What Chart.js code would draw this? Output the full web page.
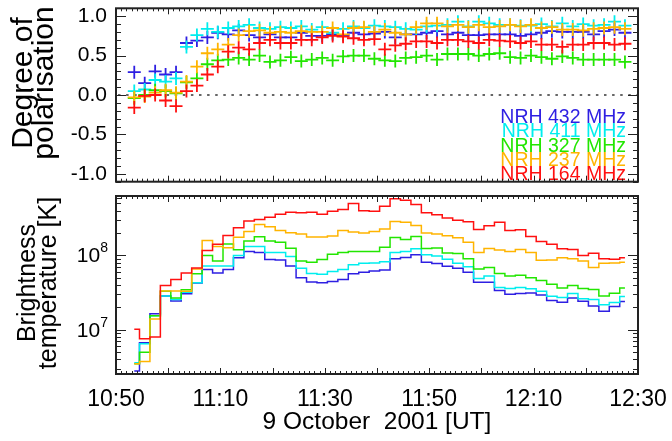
<!DOCTYPE html>
<html>
<head>
<meta charset="utf-8">
<script src="https://cdn.jsdelivr.net/npm/chart.js@4.4.1/dist/chart.umd.min.js"></script>
<style>
  html, body { margin: 0; padding: 0; background: #fff; }
  #wrap { position: relative; width: 672px; height: 441px; }
  .panel { position: absolute; left: 0; }
  #top { top: 0; }
  #bottom { top: 190px; }
</style>
</head>
<body>
<div id="wrap">
  <div class="panel" id="top"><canvas id="polChart" width="672" height="190"></canvas></div>
  <div class="panel" id="bottom"><canvas id="tbChart" width="672" height="251"></canvas></div>
</div>
<script>
// sample times (UT), one every 2 minutes
const times = [
  '10:53:30', '10:55:30', '10:57:30', '10:59:30', '11:01:30', '11:03:30', '11:05:30', '11:07:30',
  '11:09:30', '11:11:30', '11:13:30', '11:15:30', '11:17:30', '11:19:30', '11:21:30', '11:23:30',
  '11:25:30', '11:27:30', '11:29:30', '11:31:30', '11:33:30', '11:35:30', '11:37:30', '11:39:30',
  '11:41:30', '11:43:30', '11:45:30', '11:47:30', '11:49:30', '11:51:30', '11:53:30', '11:55:30',
  '11:57:30', '11:59:30', '12:01:30', '12:03:30', '12:05:30', '12:07:30', '12:09:30', '12:11:30',
  '12:13:30', '12:15:30', '12:17:30', '12:19:30', '12:21:30', '12:23:30', '12:25:30', '12:27:30'
];

// degree of polarisation
const pol432 = [0.29, 0.15, 0.30, 0.26, 0.29, 0.66, 0.69, 0.73, 0.79, 0.77, 0.82, 0.76, 0.73, 0.77, 0.73, 0.73,
  0.79, 0.75, 0.75, 0.77, 0.76, 0.79, 0.77, 0.78, 0.80, 0.73, 0.77, 0.77, 0.79, 0.81, 0.77, 0.79,
  0.76, 0.76, 0.77, 0.77, 0.77, 0.75, 0.77, 0.79, 0.81, 0.80, 0.80, 0.80, 0.77, 0.81, 0.83, 0.79];
const pol411 = [0.05, 0.07, 0.19, 0.17, 0.21, 0.61, 0.76, 0.84, 0.80, 0.85, 0.87, 0.89, 0.85, 0.84, 0.86, 0.85,
  0.87, 0.83, 0.86, 0.79, 0.84, 0.87, 0.85, 0.88, 0.87, 0.86, 0.84, 0.83, 0.87, 0.88, 0.89, 0.93,
  0.87, 0.93, 0.91, 0.89, 0.89, 0.88, 0.88, 0.90, 0.87, 0.91, 0.87, 0.90, 0.88, 0.89, 0.93, 0.88];
const pol327 = [-0.04, 0.00, 0.06, 0.05, 0.02, 0.16, 0.21, 0.39, 0.44, 0.45, 0.47, 0.45, 0.50, 0.42, 0.44, 0.48,
  0.43, 0.45, 0.47, 0.44, 0.49, 0.50, 0.50, 0.46, 0.44, 0.43, 0.47, 0.48, 0.50, 0.45, 0.52, 0.52,
  0.52, 0.50, 0.52, 0.53, 0.48, 0.47, 0.50, 0.48, 0.46, 0.49, 0.47, 0.45, 0.45, 0.45, 0.45, 0.42];
const pol237 = [-0.03, -0.02, 0.03, 0.06, 0.03, 0.17, 0.36, 0.53, 0.58, 0.64, 0.76, 0.81, 0.82, 0.79, 0.80, 0.79,
  0.81, 0.80, 0.80, 0.85, 0.77, 0.85, 0.86, 0.80, 0.83, 0.79, 0.77, 0.86, 0.91, 0.91, 0.87, 0.89,
  0.86, 0.89, 0.86, 0.87, 0.89, 0.87, 0.89, 0.85, 0.86, 0.83, 0.83, 0.82, 0.84, 0.85, 0.86, 0.84];
const pol164 = [-0.16, -0.01, 0.00, -0.07, -0.14, 0.05, 0.12, 0.26, 0.36, 0.55, 0.60, 0.58, 0.66, 0.70, 0.66, 0.66,
  0.70, 0.70, 0.73, 0.75, 0.74, 0.72, 0.70, 0.71, 0.58, 0.63, 0.65, 0.68, 0.68, 0.66, 0.70, 0.70,
  0.68, 0.66, 0.70, 0.69, 0.68, 0.66, 0.68, 0.64, 0.64, 0.61, 0.64, 0.64, 0.66, 0.66, 0.64, 0.65];

// brightness temperature [K]
const tb432 = [2.8e6, 6.7e6, 1.64e7, 2.86e7, 2.45e7, 3.05e7, 4.25e7, 6.5e7, 5.83e7, 6.5e7, 9.3e7, 1.13e8,
  1.1e8, 8.8e7, 8.7e7, 7.2e7, 5.0e7, 4.4e7, 4.3e7, 4.47e7, 4.75e7, 5.66e7, 5.97e7, 6.2e7,
  6.4e7, 9.0e7, 9.4e7, 1.02e8, 8.1e7, 7.8e7, 7.18e7, 6.75e7, 5.97e7, 4.37e7, 4.37e7, 3.39e7,
  3.02e7, 3.08e7, 3.14e7, 2.95e7, 2.48e7, 2.35e7, 2.69e7, 2.43e7, 2.1e7, 1.78e7, 2.06e7, 2.4e7];
const tb411 = [3.6e6, 6.5e6, 1.55e7, 2.86e7, 2.55e7, 3.2e7, 4.3e7, 7.2e7, 7.2e7, 7.2e7, 1.0e8, 1.32e8,
  1.32e8, 1.1e8, 1.1e8, 9.7e7, 6.75e7, 5.7e7, 5.6e7, 6.1e7, 6.5e7, 7.5e7, 7.87e7, 7.9e7,
  8.2e7, 1.1e8, 1.13e8, 1.23e8, 1.02e8, 9.8e7, 8.9e7, 7.87e7, 7.03e7, 4.9e7, 5.3e7, 3.7e7,
  3.6e7, 3.7e7, 3.56e7, 3.3e7, 2.84e7, 2.72e7, 3.08e7, 2.61e7, 2.56e7, 2.17e7, 2.33e7, 2.81e7];
const tb327 = [3.5e6, 5.0e6, 1.55e7, 3.3e7, 2.69e7, 3.45e7, 5.66e7, 1.0e8, 8.4e7, 1.43e8, 1.19e8, 1.57e8,
  1.78e8, 1.57e8, 1.51e8, 1.25e8, 8.4e7, 8.1e7, 8.8e7, 1.04e8, 1.1e8, 1.13e8, 1.13e8, 1.13e8,
  1.29e8, 1.75e8, 1.64e8, 1.8e8, 1.24e8, 1.26e8, 1.08e8, 1.06e8, 9.0e7, 6.6e7, 6.9e7, 5.7e7,
  5.3e7, 5.4e7, 5.0e7, 4.6e7, 4.1e7, 3.64e7, 3.95e7, 3.6e7, 3.5e7, 2.86e7, 3.1e7, 3.64e7];
const tb237 = [3.5e6, 3.76e6, 1.4e7, 3.34e7, 3.34e7, 3.3e7, 6.6e7, 1.59e8, 1.32e8, 1.27e8, 1.76e8, 2.1e8,
  2.61e8, 2.43e8, 2.17e8, 2.02e8, 1.95e8, 1.77e8, 1.77e8, 1.82e8, 2.17e8, 2.06e8, 2.0e8, 2.1e8,
  2.26e8, 2.86e8, 2.8e8, 2.53e8, 2.0e8, 1.94e8, 1.84e8, 1.73e8, 1.51e8, 1.1e8, 1.24e8, 1.18e8,
  1.13e8, 1.2e8, 1.1e8, 8.65e7, 8.7e7, 9.3e7, 9.0e7, 8.4e7, 6.9e7, 7.87e7, 7.9e7, 8.1e7];
const tb164 = [1.02e7, 7.6e6, 8.0e6, 3.95e7, 4.75e7, 5.8e7, 6.8e7, 1.17e8, 1.41e8, 1.86e8, 2.35e8, 2.9e8,
  3.05e8, 3.27e8, 3.59e8, 3.82e8, 3.74e8, 3.82e8, 3.59e8, 3.94e8, 4.15e8, 5.0e8, 3.98e8, 3.94e8,
  4.6e8, 5.77e8, 5.53e8, 4.84e8, 3.74e8, 3.52e8, 3.2e8, 2.98e8, 2.83e8, 2.23e8, 2.5e8, 2.8e8,
  2.17e8, 2.21e8, 1.8e8, 1.54e8, 1.41e8, 1.23e8, 1.2e8, 1.0e8, 1.07e8, 9.0e7, 8.9e7, 9.3e7];

const series = [
  { label: 'NRH 432 MHz', color: '#2e1fe2', pol: pol432, tb: tb432 },
  { label: 'NRH 411 MHz', color: '#00eeee', pol: pol411, tb: tb411 },
  { label: 'NRH 327 MHz', color: '#22e600', pol: pol327, tb: tb327 },
  { label: 'NRH 237 MHz', color: '#ffb400', pol: pol237, tb: tb237 },
  { label: 'NRH 164 MHz', color: '#ff1010', pol: pol164, tb: tb164 }
];

const FONT = "'Liberation Sans', Arial, Helvetica, sans-serif";
Chart.defaults.font.family = FONT;
Chart.defaults.color = '#000';

const toMinutes = (t) => {
  const [h, m, s] = t.split(':').map(Number);
  return h * 60 + m + s / 60;
};
const fmtTime = (v) => {
  const h = Math.floor(v / 60);
  const m = Math.round(v - h * 60);
  return h + ':' + String(m).padStart(2, '0');
};
const minutes = times.map(toMinutes);

// IDL-like frame with inward tick marks on all four sides
const frameTicks = {
  id: 'frameTicks',
  afterDraw(chart, args, opts) {
    const { ctx, chartArea: a, scales: { x, y } } = chart;
    ctx.save();
    ctx.strokeStyle = '#222';
    ctx.lineWidth = 1;
    ctx.beginPath();
    for (let m = x.min; m <= x.max + 1e-6; m += 1) {
      const px = Math.round(x.getPixelForValue(m)) + 0.5;
      const len = Math.round(m) % 10 === 0 ? 6 : 3;
      ctx.moveTo(px, a.bottom); ctx.lineTo(px, a.bottom - len);
      ctx.moveTo(px, a.top); ctx.lineTo(px, a.top + len);
    }
    opts.yTicks(y).forEach(({ value, major }) => {
      const py = Math.round(y.getPixelForValue(value)) + 0.5;
      const len = major ? 10 : 5;
      ctx.moveTo(a.left, py); ctx.lineTo(a.left + len, py);
      ctx.moveTo(a.right, py); ctx.lineTo(a.right - len, py);
    });
    ctx.stroke();
    ctx.lineWidth = 2;
    ctx.strokeRect(a.left, a.top, a.right - a.left, a.bottom - a.top);
    ctx.restore();
  }
};

// rotated two-line axis titles left of the panel
const sideTitle = {
  id: 'sideTitle',
  afterDraw(chart, args, opts) {
    const { ctx, chartArea: a } = chart;
    ctx.save();
    ctx.font = opts.size + 'px ' + FONT;
    ctx.fillStyle = '#000';
    ctx.textAlign = 'center';
    ctx.textBaseline = 'alphabetic';
    opts.lines.forEach((text, i) => {
      ctx.save();
      ctx.translate(opts.baselines[i], (a.top + a.bottom) / 2 + opts.shift);
      ctx.rotate(-Math.PI / 2);
      ctx.fillText(text, 0, 0);
      ctx.restore();
    });
    ctx.restore();
  }
};

const zeroLine = {
  id: 'zeroLine',
  beforeDatasetsDraw(chart) {
    const { ctx, chartArea: a, scales: { y } } = chart;
    const py = Math.round(y.getPixelForValue(0));
    ctx.save();
    ctx.strokeStyle = '#666';
    ctx.lineWidth = 2;
    ctx.setLineDash([2.5, 5.6]);
    ctx.beginPath();
    ctx.moveTo(a.left + 2, py); ctx.lineTo(a.right, py);
    ctx.stroke();
    ctx.restore();
  }
};

// stacked, right-aligned band labels in the lower right of the top panel
const bandLabels = {
  id: 'bandLabels',
  afterDatasetsDraw(chart) {
    const { ctx, chartArea: a } = chart;
    const n = chart.data.datasets.length;
    ctx.save();
    ctx.font = '19.5px ' + FONT;
    ctx.textAlign = 'right';
    ctx.textBaseline = 'alphabetic';
    chart.data.datasets.forEach((ds, i) => {
      ctx.fillStyle = ds.borderColor;
      ctx.fillText(ds.label, a.right - 12, a.bottom - 1.5 - (n - 1 - i) * 14.3);
    });
    ctx.restore();
  }
};

// 10^n labels for the log axis
const powerLabels = {
  id: 'powerLabels',
  afterDraw(chart) {
    const { ctx, scales: { y } } = chart;
    ctx.save();
    ctx.fillStyle = '#000';
    ctx.textBaseline = 'middle';
    ctx.textAlign = 'right';
    for (let e = Math.ceil(Math.log10(y.min)); e <= Math.floor(Math.log10(y.max)); e++) {
      const py = y.getPixelForValue(Math.pow(10, e));
      const right = y.right - 8;
      ctx.font = '14px ' + FONT;
      const sup = String(e);
      const w = ctx.measureText(sup).width;
      ctx.fillText(sup, right, py - 7);
      ctx.font = '21px ' + FONT;
      ctx.fillText('10', right - w, py + 1);
    }
    ctx.restore();
  }
};

const linearTicks = (y) => {
  const list = [];
  for (let k = Math.ceil(y.min * 10 - 1e-6); k <= Math.floor(y.max * 10 + 1e-6); k++) {
    list.push({ value: k / 10, major: k % 5 === 0 });
  }
  return list;
};
const logTicks = (y) => {
  const list = [];
  for (let e = Math.floor(Math.log10(y.min)); e <= Math.ceil(Math.log10(y.max)); e++) {
    for (let k = 1; k <= 9; k++) {
      const v = k * Math.pow(10, e);
      if (v >= y.min && v <= y.max) list.push({ value: v, major: k === 1 });
    }
  }
  return list;
};

// fixed axis boxes so both panels line up, no label overhang padding
const fixWidth = (w) => (s) => {
  s.width = w;
  s.paddingTop = 0;
  s.paddingBottom = 0;
};
const fixHeight = (h) => (s) => {
  s.height = h;
  s.paddingLeft = 0;
  s.paddingRight = 0;
};

const xRange = { type: 'linear', min: 650, max: 750 };

new Chart(document.getElementById('polChart'), {
  type: 'scatter',
  data: {
    datasets: series.map((s, i) => ({
      label: s.label,
      data: minutes.map((m, k) => ({ x: m, y: s.pol[k] })),
      pointStyle: 'cross',
      pointRadius: 6.5,
      pointBorderWidth: 1.8,
      borderColor: s.color,
      backgroundColor: s.color,
      order: series.length - i
    }))
  },
  options: {
    responsive: false,
    animation: false,
    events: [],
    layout: { padding: { top: 5, right: 34, bottom: 0, left: 0 } },
    plugins: {
      legend: { display: false },
      tooltip: { enabled: false },
      frameTicks: { yTicks: linearTicks },
      sideTitle: { lines: ['Degree of', 'polarisation'], size: 30, baselines: [32, 53], shift: -12 }
    },
    scales: {
      x: {
        ...xRange,
        ticks: { display: false },
        grid: { display: false, drawTicks: false },
        border: { display: false },
        afterFit: fixHeight(7)
      },
      y: {
        min: -1.1,
        max: 1.1,
        ticks: {
          stepSize: 0.5,
          includeBounds: false,
          padding: 9,
          font: { size: 21 },
          callback: (v) => v.toFixed(1)
        },
        grid: { display: false, drawTicks: false },
        border: { display: false },
        afterFit: fixWidth(116)
      }
    }
  },
  plugins: [zeroLine, frameTicks, bandLabels, sideTitle]
});

new Chart(document.getElementById('tbChart'), {
  type: 'line',
  data: {
    datasets: series.map((s, i) => ({
      label: s.label,
      data: minutes.map((m, k) => ({ x: m, y: s.tb[k] })),
      stepped: 'middle',
      borderColor: s.color,
      borderWidth: 1.5,
      pointRadius: 0,
      fill: false,
      order: series.length - i
    }))
  },
  options: {
    responsive: false,
    animation: false,
    events: [],
    layout: { padding: { top: 6, right: 34, bottom: 0, left: 0 } },
    plugins: {
      legend: { display: false },
      tooltip: { enabled: false },
      frameTicks: { yTicks: logTicks },
      sideTitle: { lines: ['Brightness', 'temperature [K]'], size: 25, baselines: [35, 55.5], shift: -2 }
    },
    scales: {
      x: {
        ...xRange,
        ticks: {
          stepSize: 20,
          maxRotation: 0,
          autoSkip: false,
          padding: 12,
          font: { size: 23 },
          callback: (v) => fmtTime(v)
        },
        grid: { display: false, drawTicks: false },
        border: { display: false },
        title: {
          display: true,
          text: '9 October  2001 [UT]',
          font: { size: 24.5, lineHeight: 1 },
          padding: { top: 0, bottom: 7 }
        },
        afterFit: fixHeight(67)
      },
      y: {
        type: 'logarithmic',
        min: 2.55e6,
        max: 6.3e8,
        ticks: { display: false },
        grid: { display: false, drawTicks: false },
        border: { display: false },
        afterFit: fixWidth(116)
      }
    }
  },
  plugins: [frameTicks, powerLabels, sideTitle]
});
</script>
</body>
</html>
